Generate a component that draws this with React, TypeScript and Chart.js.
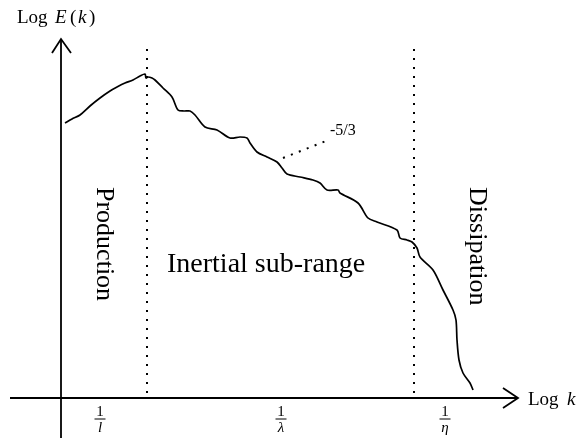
import React, { useEffect, useRef } from "react";
import { Chart, registerables } from "chart.js";

Chart.register(...registerables);

// Energy spectrum curve (log k, log E) in diagram units (origin at the axes crossing)
const curveK = [4, 11, 19, 29, 39, 49, 56, 64, 72, 79, 84, 85, 87, 91, 94, 102, 111, 117, 123, 129, 134, 144, 156, 169, 179, 186, 189, 196, 206, 216, 221, 226, 239, 252, 259, 266, 277, 279, 297, 307, 316, 336, 339, 346, 351, 356, 359, 372, 382, 392, 395, 396, 398, 402, 409, 412];
const curveE = [275, 279, 283, 292, 300, 307, 311, 315, 318, 322, 324, 320, 321, 320, 318, 310, 301, 288, 287, 287, 283, 271, 268, 260, 261, 260, 255, 246, 241, 236, 230, 224, 221, 218, 215, 208, 208, 205, 195, 180, 176, 168, 160, 158, 156, 150, 141, 128, 108, 88, 78, 58, 38, 25, 15, 8];

// Range boundaries (dotted lines) and tick label positions
const boundaryK = [86, 353];
const boundaryTop = 355;
const boundaryBottom = 5;
const cutoffK = [39, 220, 384];
const cutoffSymbols = ["l", "λ", "η"];

// -5/3 slope guide
const slopeK = [222, 265];
const slopeE = [240, 257];

// Region labels
const regionLabels = ["Production", "Inertial sub-range", "Dissipation"];

// Axis extents
const xAxisK = [-51, 456];
const yAxisE = [-40, 358];

const SERIF = "'Liberation Serif', 'Times New Roman', serif";

const textPlugin = {
  id: "diagramText",
  afterDatasetsDraw(chart: any) {
    const ctx = chart.ctx as CanvasRenderingContext2D;
    const X = (v: number) => chart.scales.x.getPixelForValue(v);
    const Y = (v: number) => chart.scales.y.getPixelForValue(v);
    ctx.save();
    ctx.fillStyle = "#000";
    ctx.strokeStyle = "#000";
    ctx.textBaseline = "alphabetic";
    ctx.textAlign = "left";

    // Log E(k)
    ctx.font = `19px ${SERIF}`;
    ctx.fillText("Log", X(-44), Y(375));
    ctx.font = `italic 19px ${SERIF}`;
    ctx.fillText("E", X(-6), Y(375));
    ctx.font = `19px ${SERIF}`;
    ctx.fillText("(", X(9), Y(375));
    ctx.font = `italic 19px ${SERIF}`;
    ctx.fillText("k", X(17), Y(375));
    ctx.font = `19px ${SERIF}`;
    ctx.fillText(")", X(28), Y(375));

    // Log k
    ctx.font = `19px ${SERIF}`;
    ctx.fillText("Log", X(467), Y(-7));
    ctx.font = `italic 19px ${SERIF}`;
    ctx.fillText("k", X(506), Y(-7));

    // Fraction tick labels
    ctx.textAlign = "center";
    cutoffK.forEach((k, i) => {
      const cx = X(k);
      ctx.font = `15px ${SERIF}`;
      ctx.fillText("1", cx, Y(-18));
      ctx.lineWidth = 1;
      ctx.beginPath();
      ctx.moveTo(cx - 5.5, Y(-21));
      ctx.lineTo(cx + 5.5, Y(-21));
      ctx.stroke();
      ctx.font = `italic 15px ${SERIF}`;
      ctx.fillText(cutoffSymbols[i], cx, Y(-34));
    });

    // -5/3
    ctx.textAlign = "left";
    ctx.font = `16px ${SERIF}`;
    ctx.fillText("-5/3", X(269), Y(263));

    // Inertial sub-range
    ctx.font = `28px ${SERIF}`;
    ctx.fillText(regionLabels[1], X(106), Y(126));

    // Rotated labels
    const rot = (label: string, k: number, e: number) => {
      ctx.save();
      ctx.translate(X(k), Y(e));
      ctx.rotate(Math.PI / 2);
      ctx.font = `26px ${SERIF}`;
      ctx.textAlign = "left";
      ctx.fillText(label, 0, 0);
      ctx.restore();
    };
    rot(regionLabels[0], 36, 211);
    rot(regionLabels[2], 409, 211);

    ctx.restore();
  },
};

export default function App() {
  const ref = useRef<HTMLCanvasElement | null>(null);

  useEffect(() => {
    if (!ref.current) return;
    const line = (data: { x: number; y: number }[], extra: any = {}) => ({
      data,
      showLine: true,
      pointRadius: 0,
      borderColor: "#000",
      borderWidth: 1.8,
      fill: false,
      tension: 0,
      ...extra,
    });

    const curve = curveK.map((k, i) => ({ x: k, y: curveE[i] }));
    const datasets: any[] = [
      line([{ x: 0, y: yAxisE[0] }, { x: 0, y: yAxisE[1] }]),
      line([{ x: -9, y: yAxisE[1] - 13 }, { x: 0, y: yAxisE[1] + 1 }, { x: 10, y: yAxisE[1] - 13 }], { borderJoinStyle: "miter" }),
      line([{ x: xAxisK[0], y: 0 }, { x: xAxisK[1], y: 0 }]),
      line([{ x: xAxisK[1] - 14, y: 10 }, { x: xAxisK[1] + 1, y: 0 }, { x: xAxisK[1] - 14, y: -10 }], { borderJoinStyle: "miter" }),
      ...boundaryK.map((k) =>
        line([{ x: k, y: boundaryBottom }, { x: k, y: boundaryTop }], { borderDash: [2, 7], borderWidth: 2 })
      ),
      line([{ x: slopeK[0], y: slopeE[0] }, { x: slopeK[1], y: slopeE[1] }], { borderDash: [2, 6.5], borderWidth: 2 }),
      line(curve, { tension: 0.3, borderWidth: 1.7 }),
    ];

    const chart = new Chart(ref.current, {
      type: "scatter",
      data: { datasets },
      options: {
        animation: false,
        responsive: false,
        maintainAspectRatio: false,
        layout: { padding: 0 },
        plugins: { legend: { display: false }, tooltip: { enabled: false } },
        scales: {
          x: { type: "linear", min: -61, max: 519, display: false },
          y: { type: "linear", min: -40, max: 398, display: false },
        },
      },
      plugins: [textPlugin],
    });
    return () => chart.destroy();
  }, []);

  return (
    <div style={{ position: "absolute", left: 0, top: 0, width: 580, height: 438, background: "#fff" }}>
      <canvas ref={ref} width={580} height={438} style={{ width: 580, height: 438 }} />
    </div>
  );
}
